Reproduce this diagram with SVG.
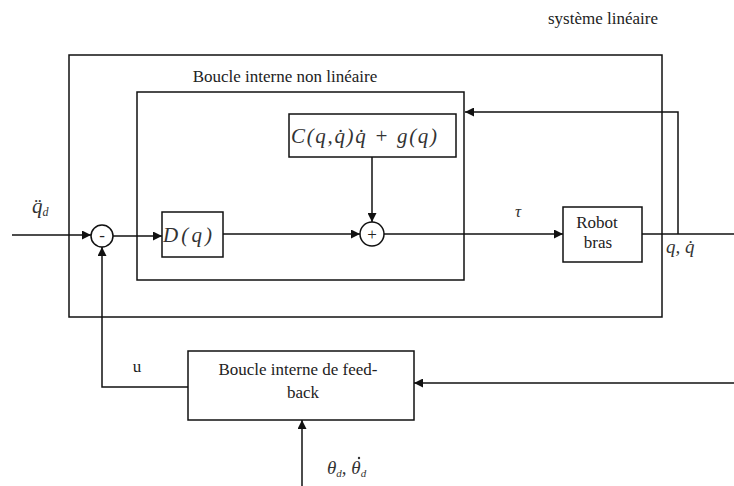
<svg xmlns="http://www.w3.org/2000/svg" width="734" height="486" viewBox="0 0 734 486">
<style>
.box{fill:none;stroke:#111;stroke-width:1.5}
.ln{fill:none;stroke:#111;stroke-width:1.5}
.t{font-family:'Liberation Serif','Times New Roman',serif;font-size:17px;fill:#222}
.m{font-family:'Liberation Serif','Times New Roman',serif;font-style:italic;fill:#333}
</style>
<defs>
<marker id="ar" viewBox="0 0 10 10" refX="10" refY="5" markerWidth="9" markerHeight="9" orient="auto" markerUnits="userSpaceOnUse">
<path d="M0,0 L10,5 L0,10 z" fill="#111"/>
</marker>
</defs>
<rect width="734" height="486" fill="#fff"/>
<g id="outer">
<rect class="box" x="69" y="55" width="593" height="262"/>
<text class="t" x="603" y="24" text-anchor="middle">système linéaire</text>
</g>
<g id="inner">
<rect class="box" x="137" y="92" width="327" height="188"/>
<text class="t" x="285" y="82" text-anchor="middle">Boucle interne non linéaire</text>
</g>
<g id="C">
<rect class="box" x="289" y="114" width="167" height="43"/>
<text class="m" x="291" y="143" font-size="21" textLength="146" lengthAdjust="spacing">C(q,q̇)q̇ + g(q)</text>
</g>
<g id="D">
<rect class="box" x="162" y="212" width="61" height="45"/>
<text class="m" x="163" y="242" font-size="21" textLength="49" lengthAdjust="spacing">D(q)</text>
</g>
<g id="minus">
<circle class="box" cx="102" cy="236" r="11"/>
<text class="t" x="102" y="241" text-anchor="middle">-</text>
</g>
<g id="plus">
<circle class="box" cx="372" cy="234" r="12"/>
<text class="t" x="372" y="240" text-anchor="middle">+</text>
</g>
<g id="robot">
<rect class="box" x="563" y="207" width="79" height="55"/>
<text class="t" x="597" y="228" text-anchor="middle">Robot</text>
<text class="t" x="598" y="248" text-anchor="middle">bras</text>
</g>
<g id="feedback">
<rect class="box" x="188" y="351" width="226" height="69"/>
<text class="t" x="298" y="375" text-anchor="middle">Boucle interne de feed-</text>
<text class="t" x="303" y="398" text-anchor="middle">back</text>
</g>
<g id="connectors">
<path class="ln" d="M12,235 H91" marker-end="url(#ar)"/>
<path class="ln" d="M113,236 H162" marker-end="url(#ar)"/>
<path class="ln" d="M223,234 H360" marker-end="url(#ar)"/>
<path class="ln" d="M372,157 V222" marker-end="url(#ar)"/>
<path class="ln" d="M384,234 H563" marker-end="url(#ar)"/>
<path class="ln" d="M642,234 H734"/>
<path class="ln" d="M678,234 V112 H465" marker-end="url(#ar)"/>
<path class="ln" d="M188,387 H102 V247" marker-end="url(#ar)"/>
<path class="ln" d="M734,383 H414" marker-end="url(#ar)"/>
<path class="ln" d="M302,486 V420" marker-end="url(#ar)"/>
</g>
<g id="labels">
<text class="m" x="32" y="213" font-size="21">q̈<tspan font-size="12" dy="3">d</tspan></text>
<text class="m" x="515" y="217" font-size="17">τ</text>
<text class="m" x="666" y="253" font-size="19">q, q̇</text>
<text class="t" x="137" y="372" text-anchor="middle">u</text>
<text class="m" x="327" y="474" font-size="19">θ<tspan font-size="11" dy="3">d</tspan><tspan dy="-3">, θ</tspan><tspan font-size="11" dy="3">d</tspan></text>
<circle cx="359" cy="458" r="1.2" fill="#333"/>
</g>
</svg>
